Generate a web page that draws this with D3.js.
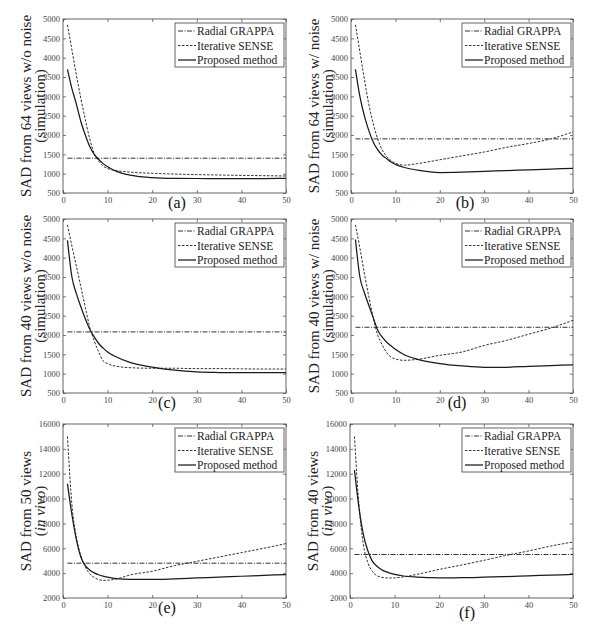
<!DOCTYPE html>
<html><head><meta charset="utf-8">
<script src="https://cdn.jsdelivr.net/npm/d3@7"></script>
<style>
body{margin:0;background:#fff}
svg{display:block}
svg text{font-family:"Liberation Serif","Times New Roman",Times,serif !important}
</style>
</head><body>
<svg id="chart" width="601" height="627"></svg>
<script>
// ---------------- data ----------------
const xValues = [1,2,3,4,5,6,7,8,9,10,12,15,20,25,30,35,40,45,50];
const grappaX = [1, 50];
const xTicks = [0,10,20,30,40,50];
const yTicksSim = [500,1000,1500,2000,2500,3000,3500,4000,4500,5000];
const yTicksVivo = [2000,4000,6000,8000,10000,12000,14000,16000];
const legendLabels = ["Radial GRAPPA","Iterative SENSE","Proposed method"];
const captions = ["(a)","(b)","(c)","(d)","(e)","(f)"];
const yLabelMain = ["SAD from 64 views w/o noise","SAD from 64 views w/ noise",
                    "SAD from 40 views w/o noise","SAD from 40 views w/ noise",
                    "SAD from 50 views","SAD from 40 views"];
const yLabelSub = ["simulation","simulation","simulation","simulation","in vivo","in vivo"];
const grappaLevels = [1400,1900,2080,2200,4800,5500];

const senseA = [4850,4200,3550,2950,2400,1900,1520,1330,1200,1130,1080,1040,1010,990,975,965,955,948,940];
const propA  = [3700,3200,2800,2350,2000,1700,1500,1370,1260,1180,1060,960,900,880,875,875,875,875,880];
const senseB = [4850,4150,3450,2800,2300,1900,1620,1450,1340,1270,1220,1260,1360,1460,1560,1680,1780,1900,2080];
const propB  = [3700,3000,2500,2120,1820,1620,1480,1390,1300,1240,1160,1090,1030,1040,1060,1080,1100,1120,1140];
const senseC = [4850,4300,3780,3250,2720,2200,1850,1560,1330,1260,1190,1155,1140,1140,1130,1130,1125,1120,1120];
const propC  = [4450,3500,3070,2730,2420,2150,1950,1780,1660,1560,1430,1290,1170,1090,1045,1030,1025,1025,1025];
const senseD = [4850,4250,3600,3000,2450,2000,1750,1550,1430,1380,1345,1370,1475,1560,1730,1860,2020,2180,2380];
const propD  = [4470,3500,3100,2770,2450,2130,1950,1820,1720,1630,1490,1370,1260,1200,1165,1165,1190,1210,1230];
const senseE = [15000,9500,6900,5400,4500,3950,3650,3480,3420,3430,3530,3850,4150,4600,4950,5300,5650,6000,6380];
const propE  = [11200,8700,6700,5300,4600,4250,4020,3870,3760,3680,3560,3500,3490,3540,3610,3680,3750,3820,3890];
const senseF = [15000,9500,6300,4850,4150,3800,3670,3620,3610,3620,3700,3900,4300,4650,5030,5430,5780,6180,6500];
const propF  = [12300,9300,7100,5800,4970,4570,4300,4120,4000,3900,3770,3680,3620,3630,3670,3720,3780,3840,3900];

// ---------------- layout ----------------
const FONT = "'Liberation Serif','Times New Roman',Times,serif";
const senseAll = [senseA,senseB,senseC,senseD,senseE,senseF];
const propAll  = [propA,propB,propC,propD,propE,propF];
const panels = [
  {l:63,  r:286, t:19,  b:193, capX:177, capY:208},
  {l:351, r:573, t:19,  b:193, capX:465, capY:208},
  {l:63,  r:286, t:219, b:393, capX:167, capY:408},
  {l:351, r:573, t:219, b:393, capX:457, capY:408},
  {l:63,  r:286, t:424, b:598, capX:167, capY:613},
  {l:350, r:573, t:424, b:598, capX:467, capY:618}
];
const styles = [
  {dash:"5,1.5,1,1.5", w:1.0, c:"#333"},
  {dash:"2.5,1.5",     w:1.0, c:"#333"},
  {dash:null,          w:1.25, c:"#1a1a1a"}
];

const svg = d3.select("#chart");

panels.forEach((p, i) => {
  const vivo = i >= 4;
  const yTicks = vivo ? yTicksVivo : yTicksSim;
  const x = d3.scaleLinear().domain([0,50]).range([p.l,p.r]);
  const y = d3.scaleLinear().domain([yTicks[0], yTicks[yTicks.length-1]]).range([p.b,p.t]);
  const g = svg.append("g");

  // axes (ticks inside, MATLAB style)
  const axStyle = sel => {
    sel.attr("font-family", FONT);
    sel.select(".domain").remove();
    sel.selectAll(".tick line").attr("stroke","#555").attr("stroke-width",0.8);
    sel.selectAll(".tick text").attr("fill","#444").style("font-size","8.5px")
       .style("font-family", FONT);
  };
  g.append("g").attr("transform",`translate(0,${p.b})`)
    .call(d3.axisBottom(x).tickValues(xTicks).tickSizeInner(-3).tickSizeOuter(0).tickPadding(4))
    .call(axStyle);
  g.append("g").attr("transform",`translate(${p.l},0)`)
    .call(d3.axisLeft(y).tickValues(yTicks).tickSizeInner(-3).tickSizeOuter(0).tickPadding(3).tickFormat(d3.format("d")))
    .call(axStyle);
  g.append("g").attr("transform",`translate(0,${p.t})`)
    .call(d3.axisTop(x).tickValues(xTicks).tickSizeInner(-3).tickSizeOuter(0).tickFormat(""))
    .call(axStyle);
  g.append("g").attr("transform",`translate(${p.r},0)`)
    .call(d3.axisRight(y).tickValues(yTicks).tickSizeInner(-3).tickSizeOuter(0).tickFormat(""))
    .call(axStyle);
  g.append("rect").attr("x",p.l).attr("y",p.t).attr("width",p.r-p.l).attr("height",p.b-p.t)
    .attr("fill","none").attr("stroke","#555").attr("stroke-width",0.9);

  // series
  const line = d3.line().x(d => x(d[0])).y(d => y(d[1])).curve(d3.curveMonotoneX);
  const seriesData = [
    grappaX.map(v => [v, grappaLevels[i]]),
    xValues.map((v,k) => [v, senseAll[i][k]]),
    xValues.map((v,k) => [v, propAll[i][k]])
  ];
  seriesData.forEach((d, s) => {
    g.append("path").attr("d", line(d)).attr("fill","none")
      .attr("stroke", styles[s].c).attr("stroke-width", styles[s].w)
      .attr("stroke-dasharray", styles[s].dash);
  });

  // legend
  const lw = 109, lh = 44;
  const lx = p.r - 2 - lw, ly = p.t + 4;
  const lg = g.append("g");
  lg.append("rect").attr("x",lx).attr("y",ly).attr("width",lw).attr("height",lh)
    .attr("fill","#fff").attr("stroke","#555").attr("stroke-width",0.9);
  legendLabels.forEach((name, s) => {
    const by = ly + 12 + s*14.5;
    lg.append("line").attr("x1",lx+3).attr("x2",lx+21).attr("y1",by-4).attr("y2",by-4)
      .attr("stroke", styles[s].c).attr("stroke-width", styles[s].w)
      .attr("stroke-dasharray", styles[s].dash);
    lg.append("text").attr("x",lx+22).attr("y",by).attr("fill","#222")
      .style("font-family", FONT).style("font-size","11.5px").text(name);
  });

  // y label
  const cy = (p.t + p.b)/2;
  g.append("text").attr("transform",`translate(${p.l-32},${cy}) rotate(-90)`)
    .attr("text-anchor","middle").attr("fill","#222")
    .style("font-family", FONT).style("font-size","15px").text(yLabelMain[i]);
  const sub = g.append("text").attr("transform",`translate(${p.l-18},${cy}) rotate(-90)`)
    .attr("text-anchor","middle").attr("fill","#222")
    .style("font-family", FONT).style("font-size","15px");
  sub.append("tspan").text("(");
  sub.append("tspan").style("font-style", vivo ? "italic" : "normal").text(yLabelSub[i]);
  sub.append("tspan").text(")");

  // caption
  g.append("text").attr("x",p.capX).attr("y",p.capY).attr("text-anchor","middle")
    .attr("fill","#111").style("font-family", FONT).style("font-size","16px").text(captions[i]);
});
</script>
</body></html>
